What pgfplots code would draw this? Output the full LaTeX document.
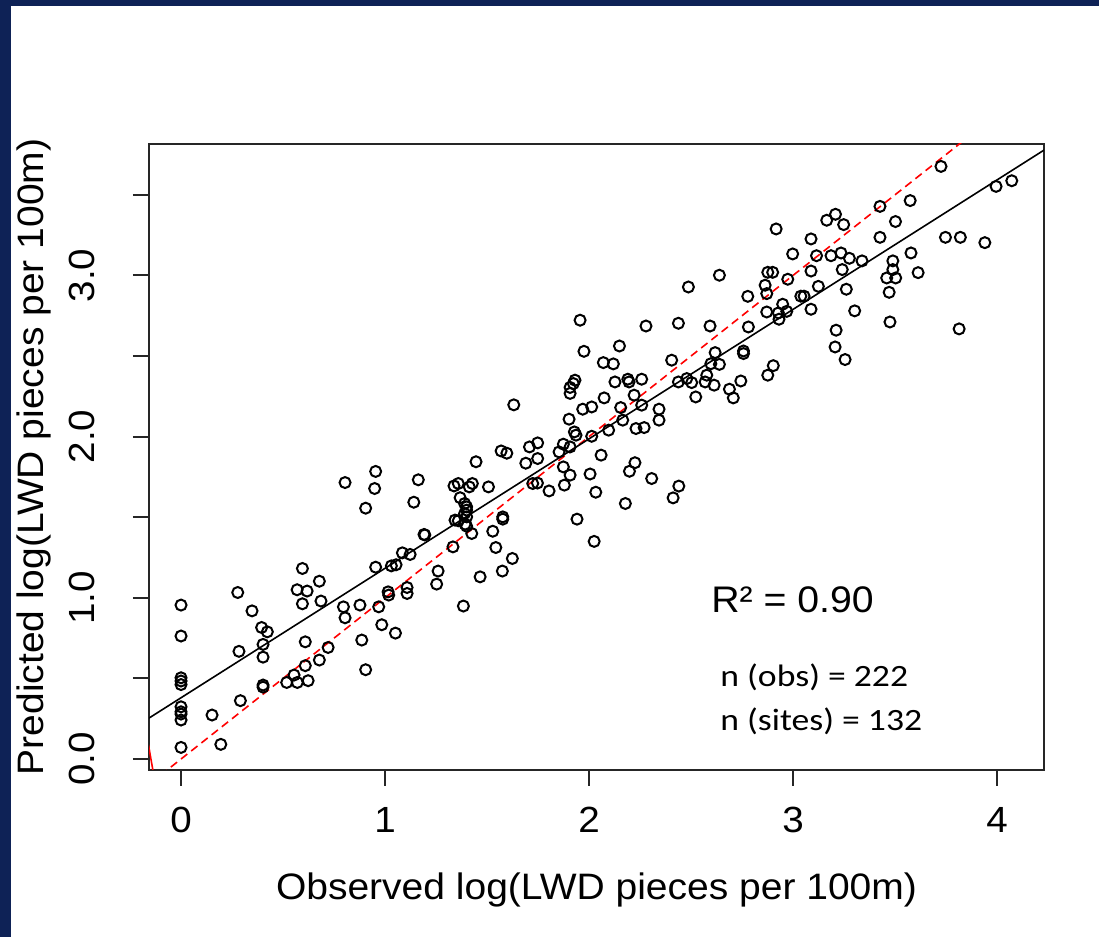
\documentclass[border=0pt]{standalone}
\usepackage{pgfplots}
\usepackage{pgfplotstable}
\pgfplotsset{compat=1.18}
\usepackage{fontspec}
\setmainfont[FakeStretch=1.06]{Liberation Sans}
\newfontfamily\calibri[FakeStretch=1.15]{Carlito}
\definecolor{slideblue}{RGB}{14,34,86}

\pgfplotstableread{
x y
0 0.955
0 0.763
0 0.504
0 0.484
0 0.462
0 0.324
0 0.293
0 0.279
0 0.242
0 0.072
0.152 0.273
0.195 0.091
0.278 1.033
0.284 0.668
0.291 0.362
0.348 0.919
0.395 0.816
0.423 0.789
0.402 0.711
0.402 0.632
0.402 0.459
0.402 0.446
0.518 0.475
0.554 0.521
0.570 0.475
0.623 0.486
0.609 0.579
0.609 0.727
0.595 1.182
0.569 1.050
0.618 1.042
0.595 0.963
0.678 1.103
0.686 0.980
0.678 0.614
0.721 0.692
0.804 1.715
0.796 0.944
0.804 0.876
0.877 0.955
0.886 0.738
0.905 0.554
0.905 1.556
0.954 1.784
0.949 1.678
0.954 1.190
0.969 0.944
0.984 0.833
1.051 0.781
1.015 1.037
1.018 1.017
1.031 1.198
1.054 1.205
1.085 1.279
1.123 1.269
1.108 1.064
1.108 1.027
1.141 1.593
1.163 1.732
1.191 1.393
1.195 1.390
1.260 1.166
1.253 1.085
1.333 1.316
1.956 2.722
1.975 2.529
2.149 2.562
2.279 2.686
2.438 2.703
2.593 2.686
2.781 2.680
2.070 2.459
2.119 2.451
1.931 2.350
1.923 2.329
1.907 2.305
1.907 2.268
2.127 2.339
2.190 2.356
2.196 2.339
2.258 2.356
2.405 2.474
2.618 2.521
2.597 2.452
2.639 2.448
2.757 2.531
2.757 2.515
2.438 2.339
2.479 2.360
2.503 2.335
2.569 2.339
2.577 2.381
2.613 2.319
2.523 2.246
2.688 2.294
2.707 2.240
2.744 2.345
2.074 2.240
2.221 2.257
2.155 2.180
2.258 2.195
2.165 2.102
2.343 2.170
2.343 2.102
2.230 2.050
2.270 2.056
1.969 2.170
2.013 2.184
1.902 2.108
2.096 2.040
2.013 2.002
1.928 2.029
1.936 2.009
1.874 1.953
1.853 1.905
1.907 1.936
1.631 2.197
1.708 1.936
1.748 1.961
1.690 1.835
1.748 1.864
1.569 1.911
1.597 1.897
1.446 1.844
1.874 1.812
1.907 1.761
1.879 1.699
2.059 1.885
2.005 1.768
2.033 1.655
2.225 1.838
2.198 1.785
2.307 1.740
2.178 1.585
2.440 1.693
2.412 1.620
1.941 1.488
2.025 1.350
1.507 1.688
1.338 1.694
1.359 1.709
1.413 1.688
1.428 1.709
1.368 1.621
1.390 1.585
1.400 1.564
1.400 1.544
1.390 1.523
1.400 1.502
1.343 1.482
1.359 1.478
1.392 1.457
1.400 1.444
1.425 1.399
1.384 0.949
1.466 1.130
1.528 1.413
1.543 1.312
1.577 1.502
1.577 1.488
1.575 1.166
1.624 1.244
1.724 1.709
1.747 1.712
1.804 1.663
3.725 3.676
3.995 3.552
4.072 3.587
3.574 3.464
3.426 3.428
3.502 3.334
3.165 3.342
3.208 3.379
3.248 3.315
2.917 3.288
3.088 3.226
3.426 3.236
3.747 3.236
3.820 3.236
3.940 3.203
2.998 3.133
3.115 3.122
3.186 3.122
3.235 3.139
3.276 3.106
3.338 3.090
3.578 3.139
3.489 3.090
3.489 3.036
3.459 2.984
3.503 2.984
3.471 2.895
3.613 3.017
3.475 2.711
3.814 2.668
2.876 3.019
2.900 3.019
3.088 3.027
3.241 3.036
2.974 2.976
2.863 2.939
2.871 2.887
2.778 2.870
3.038 2.871
3.054 2.871
3.124 2.932
3.261 2.914
2.949 2.821
2.928 2.767
2.969 2.777
2.931 2.728
2.871 2.773
3.088 2.790
3.302 2.780
3.211 2.660
3.206 2.556
3.255 2.478
2.903 2.440
2.876 2.381
2.487 2.928
2.639 3.001
}\pts

\begin{document}
\begin{tikzpicture}
\fill[slideblue] (0bp,0bp) rectangle (549.5bp,468.5bp);
\fill[white] (5.5bp,0bp) rectangle (549.5bp,465.5bp);
\begin{axis}[
  at={(74.5bp,83.5bp)}, anchor=south west,
  scale only axis, width=447.5bp, height=313bp,
  xmin=-0.157, xmax=4.230, ymin=-0.068, ymax=3.815,
  axis line style={line width=1bp, black!85},
  every tick/.style={line width=1bp, black!85},
  tick align=outside, major tick length=8bp,
  xtick pos=bottom, ytick pos=left,
  xtick={0,1,2,3,4}, xticklabels={0,1,2,3,4},
  ytick={0,0.5,1,1.5,2,2.5,3,3.5}, yticklabels={0.0,,1.0,,2.0,,3.0,},
  /pgf/number format/assume math mode=true,
  tick label style={font=\fontsize{18.2bp}{20bp}\selectfont, inner sep=0pt},
  xticklabel style={anchor=base, yshift=-23.3bp},
  yticklabel style={xshift=-19bp, rotate=90, anchor=base},
  clip=true,
]
\addplot[red, line width=0.8bp, dash pattern=on 4bp off 2.5bp] coordinates {(-0.2,-0.2) (3.95,3.95)};
\addplot[red, line width=0.8bp] coordinates {(-0.16,0.09) (-0.135,-0.09)};
\addplot[black, line width=0.8bp] coordinates {(-0.157,0.254) (4.230,3.777)};
\addplot[only marks, mark=o, mark size=2.75bp, mark options={line width=1bp, black}] table[x=x,y=y] {\pts};
\end{axis}
\node[anchor=base, inner sep=0pt, font=\fontsize{18.5bp}{20bp}\selectfont] at (396.25bp,162bp) {R² = 0.90};
\node[anchor=base west, inner sep=0pt, font=\calibri\fontsize{15.5bp}{18bp}\selectfont] at (360bp,125.15bp) {n (obs) = 222};
\node[anchor=base west, inner sep=0pt, font=\calibri\fontsize{15.5bp}{18bp}\selectfont] at (360bp,103.15bp) {n (sites) = 132};
\node[anchor=base, inner sep=0pt, font=\fontsize{18.4bp}{20bp}\selectfont] at (298.25bp,19bp) {Observed log(LWD pieces per 100m)};
\node[rotate=90, anchor=base, inner sep=0pt, font=\fontsize{18.4bp}{20bp}\selectfont] at (21.6bp,240bp) {Predicted log(LWD pieces per 100m)};
\end{tikzpicture}
\end{document}
